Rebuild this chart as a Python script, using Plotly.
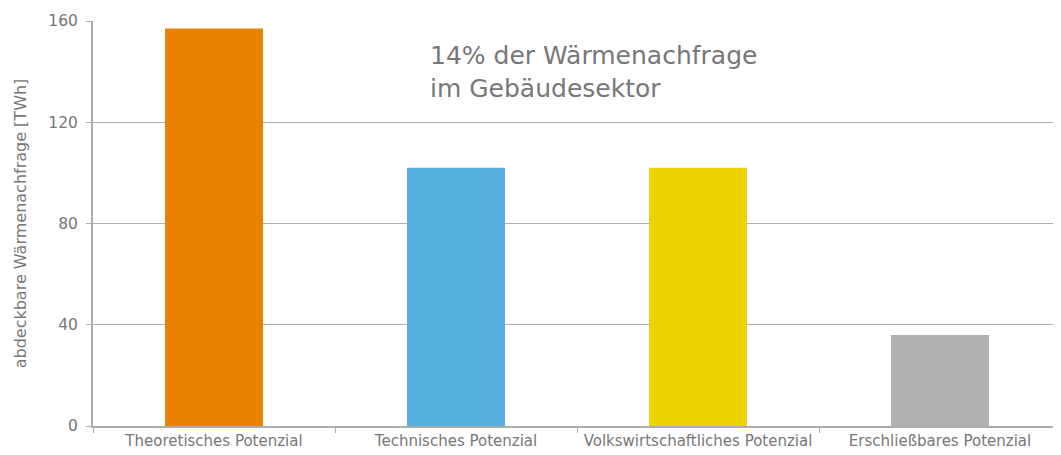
"""Abdeckbare Wärmenachfrage nach Potenzialart."""

import plotly.graph_objects as go

categories = [
    "Theoretisches Potenzial",
    "Technisches Potenzial",
    "Volkswirtschaftliches Potenzial",
    "Erschließbares Potenzial",
]
values_twh = [157, 102, 102, 36]
bar_colors = ["#E88300", "#56B0DE", "#EAD300", "#B0B1B1"]
y_ticks = [0, 40, 80, 120, 160]

GRID = "#ADADAD"
TEXT = "#777777"
FONT = "DejaVu Sans, Liberation Sans, Arial, sans-serif"

fig = go.Figure(
    go.Bar(
        x=categories,
        y=values_twh,
        marker=dict(color=bar_colors, line=dict(width=0)),
        showlegend=False,
    )
)

fig.add_annotation(
    text="14% der Wärmenachfrage<br>im Gebäudesektor",
    xref="paper",
    yref="paper",
    x=0.346,
    y=0.955,
    xanchor="left",
    yanchor="top",
    align="left",
    showarrow=False,
    font=dict(size=25, color=TEXT),
)

# the page body has an 8px margin, so the figure is a bit smaller than the window
fig.update_layout(
    width=1053,
    height=447,
    margin=dict(l=85, r=0, t=13, b=29, autoexpand=False),
    paper_bgcolor="white",
    plot_bgcolor="white",
    bargap=0.595,
    font=dict(family=FONT, color=TEXT, size=15),
)

fig.update_xaxes(
    showline=True,
    linecolor=GRID,
    linewidth=2,
    ticks="outside",
    tickson="boundaries",
    ticklen=5,
    tickcolor=GRID,
    tickangle=0,
    automargin=False,
    showgrid=False,
    tickfont=dict(size=15, color=TEXT),
)

fig.update_yaxes(
    range=[0, 160],
    tickvals=y_ticks,
    showline=True,
    linecolor=GRID,
    linewidth=2,
    ticks="outside",
    ticklen=5,
    tickcolor=GRID,
    ticklabelstandoff=5,
    automargin=False,
    showgrid=True,
    gridcolor=GRID,
    gridwidth=1,
    zeroline=False,
    tickfont=dict(size=15.5, color=TEXT),
    title=dict(
        text="abdeckbare Wärmenachfrage [TWh]",
        font=dict(size=16, color=TEXT),
        standoff=18,
    ),
)

fig.write_html("out.html")
